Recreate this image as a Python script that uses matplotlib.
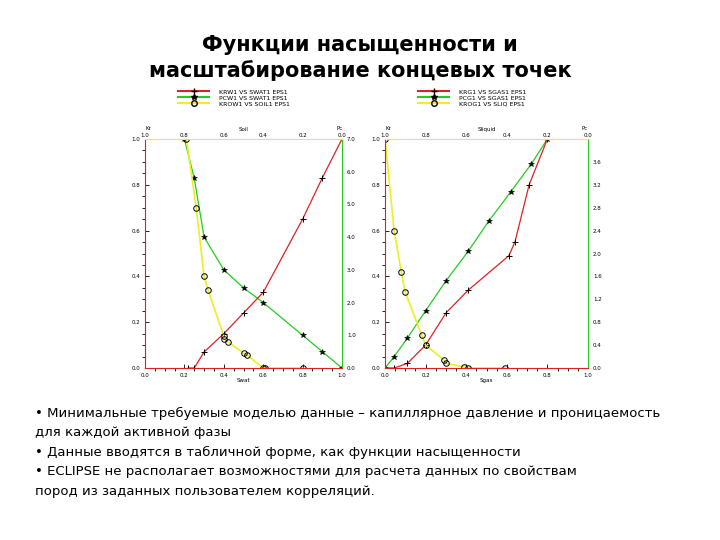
import matplotlib
matplotlib.use("Agg")
import matplotlib.pyplot as plt
from matplotlib.lines import Line2D

# Left plot data
krw_x = [0.22, 0.25, 0.3, 0.4, 0.5, 0.6, 0.8, 0.9, 1.0]
krw_y = [0.0, 0.0, 0.07, 0.15, 0.24, 0.33, 0.65, 0.83, 1.0]
pcw_x = [0.2, 0.25, 0.3, 0.4, 0.5, 0.6, 0.8, 0.9, 1.0]
pcw_y = [7.0, 5.8, 4.0, 3.0, 2.45, 2.0, 1.0, 0.5, 0.0]
krow_x = [0.21, 0.26, 0.3, 0.32, 0.4, 0.4, 0.42, 0.5, 0.52, 0.6, 0.61, 0.8]
krow_y = [1.0, 0.7, 0.4, 0.34, 0.14, 0.125, 0.115, 0.065, 0.055, 0.0, 0.0, 0.0]
# Right plot data
krg_x = [0.0, 0.045, 0.11, 0.2, 0.3, 0.41, 0.61, 0.64, 0.71, 0.8]
krg_y = [0.0, 0.0, 0.02, 0.1, 0.24, 0.34, 0.49, 0.55, 0.8, 1.0]
pcg_x = [0.0, 0.045, 0.11, 0.2, 0.3, 0.41, 0.51, 0.62, 0.72, 0.8]
pcg_y = [0.0, 0.2, 0.52, 1.0, 1.52, 2.04, 2.56, 3.08, 3.56, 4.0]
krog_x = [0.0, 0.045, 0.08, 0.1, 0.18, 0.2, 0.29, 0.3, 0.39, 0.41, 0.59]
krog_y = [1.0, 0.6, 0.42, 0.33, 0.145, 0.1, 0.035, 0.02, 0.005, 0.0, 0.0]

top_labels = ["1.0", "0.8", "0.6", "0.4", "0.2", "0.0"]
title = "Функции насыщенности и\nмасштабирование концевых точек"
bullets = ["• Минимальные требуемые моделью данные – капиллярное давление и проницаемость",
           "для каждой активной фазы",
           "• Данные вводятся в табличной форме, как функции насыщенности",
           "• ECLIPSE не располагает возможностями для расчета данных по свойствам",
           "пород из заданных пользователем корреляций."]

RED, GRN, YEL = "#dd2222", "#22cc22", "#eeee22"
fig = plt.figure(figsize=(7.2, 5.4), dpi=100)
W, H = 720, 540

def panel(x0, x1, kr, pc, ko, pcmax, pcticks, legend, xl, tl):
    ax = fig.add_axes([x0 / W, 1 - 368 / H, (x1 - x0) / W, (368 - 139) / H])
    ax.plot(kr[0], kr[1], color=RED, lw=0.9, marker="+", ms=5, mec="k", mew=0.7)
    ax.plot(ko[0], ko[1], color=YEL, lw=1.2, marker="o", ms=4, mfc="none", mec="k", mew=0.7)
    ax.set_xlim(0, 1); ax.set_ylim(0, 1)
    ax.set_xticks([0, 0.2, 0.4, 0.6, 0.8, 1.0]); ax.set_xticks([i / 20 for i in range(21)], minor=True)
    ax.set_yticks([0, 0.2, 0.4, 0.6, 0.8, 1.0]); ax.set_yticks([i / 20 for i in range(21)], minor=True)
    ax.tick_params(labelsize=4, length=3, direction="in", width=0.6)
    ax.tick_params(which="minor", length=2)
    ax.spines["left"].set_color(RED); ax.spines["bottom"].set_color(RED)
    ax.spines["top"].set_color(YEL); ax.spines["right"].set_color(GRN)
    ax.set_xlabel(xl, fontsize=4, labelpad=0)
    ax2 = ax.twinx()
    ax2.plot(pc[0], pc[1], color=GRN, lw=0.9, marker="*", ms=4, mec="k", mfc="k", mew=0.4)
    ax2.set_ylim(0, pcmax); ax2.set_yticks(pcticks)
    ax2.set_yticklabels([f"{t:.1f}" for t in pcticks])
    ax2.tick_params(labelsize=4, length=0)
    for s in ax2.spines.values(): s.set_visible(False)
    ax3 = ax.twiny()
    ax3.set_xlim(0, 1); ax3.set_xticks([0, 0.2, 0.4, 0.6, 0.8, 1.0])
    ax3.set_xticklabels(top_labels); ax3.tick_params(labelsize=4, length=0, pad=1)
    for s in ax3.spines.values(): s.set_visible(False)
    ax3.set_xlabel(tl, fontsize=4, labelpad=1)
    ax.text(0, 1.04, "Kr", transform=ax.transAxes, fontsize=4)
    ax.text(0.97, 1.04, "Pc", transform=ax.transAxes, fontsize=4)
    ax.set_zorder(2); ax.patch.set_visible(False)
    handles = [Line2D([], [], color=RED, marker="+", mec="k", ms=5),
               Line2D([], [], color=GRN, marker="*", mec="k", mfc="k", ms=4),
               Line2D([], [], color=YEL, marker="o", mfc="none", mec="k", ms=4)]
    fig.legend(handles, legend, loc="upper left", bbox_to_anchor=((x0 + 30) / W, 1 - 86 / H),
               fontsize=4.5, frameon=False, handlelength=5, labelspacing=0.1, borderpad=0, handletextpad=1.5)

panel(145, 342, (krw_x, krw_y), (pcw_x, pcw_y), (krow_x, krow_y), 7.0,
      [0, 1, 2, 3, 4, 5, 6, 7],
      ["KRW1 VS SWAT1 EPS1", "PCW1 VS SWAT1 EPS1", "KROW1 VS SOIL1 EPS1"], "Swat", "Soil")
panel(385, 588, (krg_x, krg_y), (pcg_x, pcg_y), (krog_x, krog_y), 4.0,
      [0.4 * i for i in range(10)],
      ["KRG1 VS SGAS1 EPS1", "PCG1 VS SGAS1 EPS1", "KROG1 VS SLIQ EPS1"], "Sgas", "Sliquid")

fig.text(0.5, 1 - 58 / H, title, ha="center", va="center", fontsize=15, fontweight="bold",
         family="DejaVu Sans", linespacing=1.3)
for i, b in enumerate(bullets):
    fig.text(35 / W, 1 - (413 + 19.5 * i) / H, b, fontsize=9.5, va="center", family="DejaVu Sans")
fig.savefig("out.png", dpi=100)
